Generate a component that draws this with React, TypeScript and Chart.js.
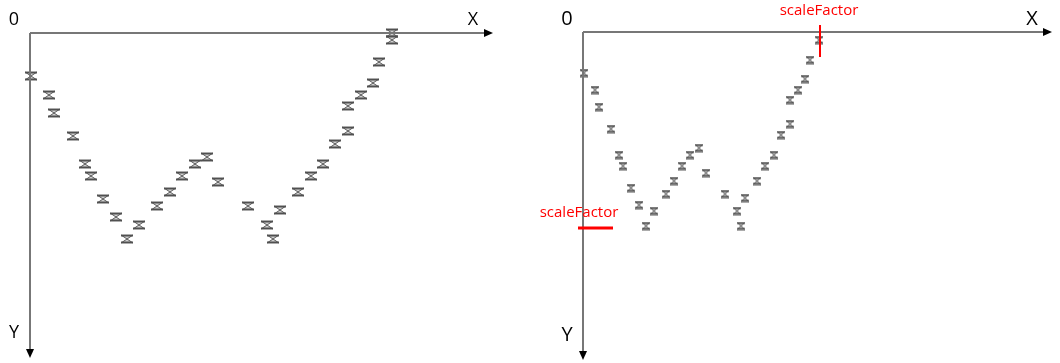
import React, { useEffect, useRef } from "react";
import { Chart, registerables } from "chart.js";

Chart.register(...registerables);

// Left panel: original sample positions (x to the right, y downward from origin)
const leftX = [1, 19, 24, 43, 55, 61, 73, 86, 97, 109, 127, 140, 152, 165, 177, 188, 218, 237, 243, 250, 268, 281, 293, 305, 318, 318, 331, 343, 349, 362, 362];
const leftY = [43, 62, 80, 103, 131, 143, 166, 184, 206, 192, 173, 159, 143, 131, 124, 149, 173, 192, 206, 177, 159, 143, 131, 111, 98, 73, 62, 50, 29, 0, 7];

// Right panel: scaled sample positions
const rightX = [1, 12, 16, 28, 36, 40, 48, 56, 63, 71, 83, 91, 99, 107, 116, 123, 142, 154, 158, 162, 174, 182, 191, 198, 207, 207, 215, 222, 227, 236];
const rightY = [41, 58, 75, 97, 123, 134, 156, 173, 194, 179, 162, 149, 134, 123, 116, 141, 162, 179, 194, 166, 149, 134, 123, 103, 92, 68, 58, 47, 28, 8];

// scaleFactor markers on the right panel
const scaleFactorX = [237];
const scaleFactorY = [196];

const axisLabels = ["0", "X", "Y"];
const scaleFactorLabel = "scaleFactor";

function makeHourglass(w: number, h: number): HTMLCanvasElement {
  const c = document.createElement("canvas");
  c.width = w + 2;
  c.height = h + 2;
  const ctx = c.getContext("2d")!;
  const l = 1, r = w + 1, t = 1, b = h + 1, cx = (l + r) / 2, cy = (t + b) / 2;
  ctx.beginPath();
  ctx.moveTo(l, t);
  ctx.lineTo(r, t);
  ctx.lineTo(cx, cy);
  ctx.lineTo(r, b);
  ctx.lineTo(l, b);
  ctx.lineTo(cx, cy);
  ctx.closePath();
  ctx.fillStyle = "#d0d0d0";
  ctx.fill();
  ctx.strokeStyle = "#5a5a5a";
  ctx.lineWidth = 1;
  ctx.stroke();
  ctx.fillStyle = "#505050";
  ctx.fillRect(l, t, w, 1.5);
  ctx.fillRect(l, b - 1.5, w, 1.5);
  return c;
}

type PanelOpts = {
  fontSize: number;
  showScale: boolean;
};

const axesPlugin = {
  id: "customAxes",
  afterDatasetsDraw(chart: any, _args: any, opts: PanelOpts) {
    const ctx: CanvasRenderingContext2D = chart.ctx;
    const xs = chart.scales.x;
    const ys = chart.scales.y;
    const ox = xs.getPixelForValue(0);
    const oy = ys.getPixelForValue(0);
    const xe = xs.getPixelForValue(xs.max);
    const ye = ys.getPixelForValue(ys.max);
    ctx.save();
    ctx.strokeStyle = "#777777";
    ctx.lineWidth = 2;
    ctx.beginPath();
    ctx.moveTo(ox, oy);
    ctx.lineTo(xe - 6, oy);
    ctx.moveTo(ox, oy);
    ctx.lineTo(ox, ye - 6);
    ctx.stroke();
    ctx.fillStyle = "#000";
    ctx.beginPath();
    ctx.moveTo(xe, oy);
    ctx.lineTo(xe - 9, oy - 4);
    ctx.lineTo(xe - 9, oy + 4);
    ctx.closePath();
    ctx.fill();
    ctx.beginPath();
    ctx.moveTo(ox, ye);
    ctx.lineTo(ox - 4, ye - 9);
    ctx.lineTo(ox + 4, ye - 9);
    ctx.closePath();
    ctx.fill();
    ctx.fillStyle = "#000";
    ctx.font = `${opts.fontSize}px "Open Sans", "DejaVu Sans", sans-serif`;
    ctx.textAlign = "center";
    ctx.textBaseline = "middle";
    ctx.fillText(axisLabels[0], ox - 16, oy - 13);
    ctx.fillText(axisLabels[1], xe - 20, oy - 13);
    ctx.fillText(axisLabels[2], ox - 16, ye - 25);

    if (opts.showScale) {
      const sx = xs.getPixelForValue(scaleFactorX[0]);
      const sy = ys.getPixelForValue(scaleFactorY[0]);
      ctx.strokeStyle = "#ff0000";
      ctx.lineWidth = 2;
      ctx.beginPath();
      ctx.moveTo(sx, oy - 7);
      ctx.lineTo(sx, oy + 25);
      ctx.stroke();
      ctx.lineWidth = 3;
      ctx.beginPath();
      ctx.moveTo(ox - 5, sy);
      ctx.lineTo(ox + 30, sy);
      ctx.stroke();
      ctx.fillStyle = "#ff0000";
      ctx.font = `15px "Open Sans", "DejaVu Sans", sans-serif`;
      ctx.fillText(scaleFactorLabel, sx - 1, oy - 21);
      ctx.fillText(scaleFactorLabel, ox - 4, sy - 15);
    }
    ctx.restore();
  },
};

function makeConfig(
  xv: number[],
  yv: number[],
  xMax: number,
  yMax: number,
  padding: { left: number; right: number; top: number; bottom: number },
  marker: HTMLCanvasElement,
  opts: PanelOpts
): any {
  return {
    type: "scatter",
    data: {
      datasets: [
        {
          data: xv.map((x, i) => ({ x, y: yv[i] })),
          pointStyle: marker,
          pointRadius: 6,
        },
      ],
    },
    options: {
      animation: false,
      responsive: false,
      devicePixelRatio: 1,
      layout: { padding, autoPadding: false },
      scales: {
        x: { type: "linear", min: 0, max: xMax, display: false },
        y: { type: "linear", min: 0, max: yMax, reverse: true, display: false },
      },
      plugins: {
        legend: { display: false },
        tooltip: { enabled: false },
        customAxes: opts,
      },
      clip: false,
    },
    plugins: [axesPlugin],
  };
}

export default function App() {
  const leftRef = useRef<HTMLCanvasElement>(null);
  const rightRef = useRef<HTMLCanvasElement>(null);

  useEffect(() => {
    const charts: Chart[] = [];
    if (leftRef.current) {
      charts.push(
        new Chart(
          leftRef.current,
          makeConfig(
            leftX,
            leftY,
            463,
            325,
            { left: 30, right: 37, top: 33, bottom: 5 },
            makeHourglass(12, 8),
            { fontSize: 18, showScale: false }
          )
        )
      );
    }
    if (rightRef.current) {
      charts.push(
        new Chart(
          rightRef.current,
          makeConfig(
            rightX,
            rightY,
            469,
            328,
            { left: 53, right: 8, top: 32, bottom: 3 },
            makeHourglass(8, 7),
            { fontSize: 20, showScale: true }
          )
        )
      );
    }
    return () => charts.forEach((c) => c.destroy());
  }, []);

  return (
    <div style={{ position: "absolute", left: 0, top: 0, width: 1060, height: 363, background: "#fff", display: "flex" }}>
      <canvas ref={leftRef} width={530} height={363} style={{ width: 530, height: 363, display: "block" }} />
      <canvas ref={rightRef} width={530} height={363} style={{ width: 530, height: 363, display: "block" }} />
    </div>
  );
}
